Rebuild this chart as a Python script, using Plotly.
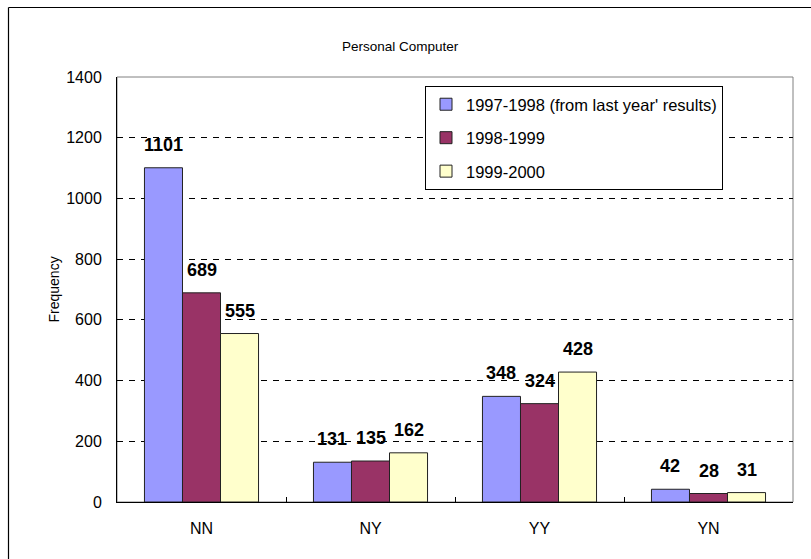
import plotly.graph_objects as go

categories = ["NN", "NY", "YY", "YN"]
series_names = ["1997-1998 (from last year' results)", "1998-1999", "1999-2000"]
v_1997 = [1101, 131, 348, 42]
v_1998 = [689, 135, 324, 28]
v_1999 = [555, 162, 428, 31]
colors = ["#9999FF", "#993366", "#FFFFCC"]
y_ticks = [0, 200, 400, 600, 800, 1000, 1200, 1400]

FONT = "Liberation Sans, Arial, sans-serif"
series = [v_1997, v_1998, v_1999]

W, H = 811, 559
ML, MT = 117, 77
PW, PH = 676, 425
MR, MB = W - ML - PW, H - MT - PH

fig = go.Figure()
for name, vals, col in zip(series_names, series, colors):
    fig.add_trace(go.Bar(
        x=categories, y=vals, name=name, legendgroup=name,
        marker=dict(color=col, line=dict(color="#222222", width=1)),
    ))

bargap = 0.325
w = (1 - bargap) / 3
for j, vals in enumerate(series):
    for i, v in enumerate(vals):
        fig.add_annotation(
            x=i + (j - 1) * w, y=v, xref="x", yref="y",
            text="<b>%d</b>" % v, showarrow=False,
            yanchor="middle", yshift=23,
            font=dict(family=FONT, size=18, color="black"),
        )

fig.add_annotation(
    x=(43 - ML) / PW, y=0.5, xref="paper", yref="paper",
    text="Frequency", textangle=-90, showarrow=False,
    font=dict(family=FONT, size=14, color="black"),
)
fig.add_annotation(
    x=(400 - ML) / PW, y=(MT + PH - 37) / PH, xref="paper", yref="paper",
    text="Personal Computer", showarrow=False,
    font=dict(family=FONT, size=13.5, color="black"),
)

# outer chart border (left and top edges; right/bottom lie outside the view)
bx = (8.5 - ML) / PW
by = 1 + (MT - 7.5) / PH
fig.add_shape(type="line", xref="paper", yref="paper",
              x0=bx, x1=bx, y0=-MB / PH - 0.05, y1=by,
              line=dict(color="black", width=1.2), layer="below")
fig.add_shape(type="line", xref="paper", yref="paper",
              x0=bx, x1=1 + MR / PW + 0.05, y0=by, y1=by,
              line=dict(color="black", width=1.2), layer="below")
# plot area border
fig.add_shape(type="rect", xref="paper", yref="paper",
              x0=0, x1=1, y0=0, y1=1,
              line=dict(color="#808080", width=1), layer="below")

fig.update_layout(
    width=W, height=H,
    margin=dict(l=ML, r=MR, t=MT, b=MB),
    paper_bgcolor="white", plot_bgcolor="white",
    font=dict(family=FONT, size=16, color="black"),
    barmode="group", bargap=bargap, bargroupgap=0,
    showlegend=True,
    legend=dict(
        x=(425 - ML) / PW, y=(MT + PH - 86) / PH, xanchor="left", yanchor="top",
        bgcolor="white", bordercolor="black", borderwidth=1,
        font=dict(family=FONT, size=16.5, color="black"),
        tracegroupgap=9, traceorder="grouped",
    ),
    xaxis=dict(
        type="category", showline=True, linecolor="black", linewidth=1,
        ticks="inside", tickson="boundaries", ticklen=5, tickcolor="black",
        ticklabelstandoff=12, showgrid=False,
        tickfont=dict(family=FONT, size=16, color="black"),
    ),
    yaxis=dict(
        range=[0, 1400], tickvals=y_ticks, showline=True, linecolor="black",
        linewidth=1, ticks="", ticklabelstandoff=11,
        showgrid=True, gridcolor="black", gridwidth=1, griddash="6px,6px",
        zeroline=False,
        tickfont=dict(family=FONT, size=16, color="black"),
    ),
)

fig.write_html(
    "out.html",
    config={"displayModeBar": False},
    post_script="document.body.style.margin='0';document.body.style.overflow='hidden';",
)
